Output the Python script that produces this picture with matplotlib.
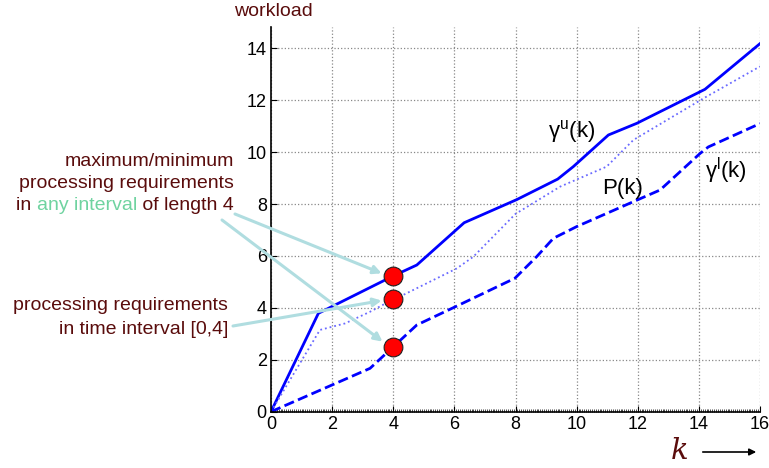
import numpy as np
import matplotlib
matplotlib.use("Agg")
import matplotlib.pyplot as plt
from matplotlib.ticker import MultipleLocator

plt.rcParams['font.family'] = ['Liberation Sans', 'DejaVu Sans']

# upper workload curve gamma^u(k)
k_upper = [0, 1.55, 4.0, 4.77, 6.32, 8.04, 9.38, 9.89, 11.04, 11.97, 14.2, 16.0]
w_upper = [0, 3.79, 5.23, 5.65, 7.28, 8.17, 8.96, 9.44, 10.66, 11.11, 12.42, 14.18]

# processing requirements P(k) of one trace
k_trace = [0, 1.6, 2.42, 3.24, 4.0, 4.33, 6.08, 6.62, 8.0, 9.46, 10.98, 11.86, 14.15, 16.0]
w_trace = [0, 3.15, 3.4, 3.85, 4.33, 4.5, 5.52, 5.97, 7.62, 8.67, 9.44, 10.47, 12.07, 13.3]

# lower workload curve gamma^l(k)
k_lower = [0, 3.24, 4.0, 4.77, 6.08, 7.98, 8.69, 9.24, 10.0, 11.97, 12.73, 14.04, 14.31, 16.0]
w_lower = [0, 1.67, 2.5, 3.34, 4.07, 5.14, 5.97, 6.68, 7.13, 8.15, 8.54, 9.95, 10.2, 11.1]

# highlighted values at k = 4
k_mark = [4, 4, 4]
w_mark = [5.23, 4.33, 2.5]

text_col = '#5a0c0c'
arrow_col = '#b0dde0'
fs = 14

fig = plt.figure(figsize=(7.69, 4.68), dpi=100)
ax = fig.add_axes([271 / 769, 1 - 411.7 / 468, 489 / 769, 384.7 / 468])

ax.plot(k_upper, w_upper, '-', color='#0000ff', lw=2)
ax.plot(k_trace, w_trace, ':', color='#6a6aff', lw=1.3)
ax.plot(k_lower, w_lower, '--', color='#0000ff', lw=2)

ax.set_xlim(0, 16)
ax.set_ylim(0, 14.82)
ax.set_xticks(range(0, 17, 2))
ax.set_yticks(range(0, 15, 2))
ax.xaxis.set_minor_locator(MultipleLocator(1 / 16))
ax.tick_params(which='minor', length=2, width=0.5, direction='in')
ax.tick_params(which='major', length=4, labelsize=13, direction='in', pad=3)
ax.grid(True, which='major', ls=':', color='#888888', lw=0.9)
ax.spines['top'].set_visible(False)
ax.spines['right'].set_visible(False)
ax.spines['left'].set_linewidth(1.2)
ax.spines['bottom'].set_linewidth(1.2)

ax.text(9.05, 10.55, r'$\mathregular{\gamma^u(k)}$', fontsize=16)
ax.text(10.85, 8.4, 'P(k)', fontsize=16)
ax.text(14.2, 9.0, r'$\mathregular{\gamma^l(k)}$', fontsize=16)


def px(x, y):
    # pixel position (from the top left) to figure fraction
    return (x / 769, 1 - y / 468)


arrow_kw = dict(arrowstyle='-|>', color=arrow_col, lw=2.2,
                mutation_scale=12, shrinkA=0, shrinkB=0)
ax.annotate('', xy=(k_mark[0] - 0.38, w_mark[0] + 0.1), xycoords='data',
            xytext=px(235, 214), textcoords='figure fraction', arrowprops=arrow_kw)
ax.annotate('', xy=(k_mark[2] - 0.35, w_mark[2] + 0.2), xycoords='data',
            xytext=px(222, 220), textcoords='figure fraction', arrowprops=arrow_kw)
ax.annotate('', xy=(k_mark[1] - 0.38, w_mark[1] - 0.05), xycoords='data',
            xytext=px(233, 326), textcoords='figure fraction', arrowprops=arrow_kw)

ax.plot(k_mark, w_mark, 'o', color='#ff0000', markeredgecolor='#202020',
        markeredgewidth=0.8, markersize=13.5, clip_on=False, zorder=5)

# explanatory text on the left
fig.text(234 / 769, 1 - 161 / 468, 'maximum/minimum', ha='right', va='center',
         fontsize=fs, color=text_col)
fig.text(234 / 769, 1 - 184 / 468, 'processing requirements', ha='right', va='center',
         fontsize=fs, color=text_col)
t1 = fig.text(234 / 769, 1 - 206 / 468, ' of length 4', ha='right', va='center',
              fontsize=fs, color=text_col)
fig.canvas.draw()
bb = t1.get_window_extent()
t2 = fig.text(bb.x0 / fig.bbox.width, 1 - 206 / 468, 'any interval', ha='right',
              va='center', fontsize=fs, color='#6fd3a0')
fig.canvas.draw()
bb2 = t2.get_window_extent()
fig.text(bb2.x0 / fig.bbox.width, 1 - 206 / 468, 'in ', ha='right', va='center',
         fontsize=fs, color=text_col)

fig.text(228 / 769, 1 - 306 / 468, 'processing requirements', ha='right', va='center',
         fontsize=fs, color=text_col)
fig.text(228 / 769, 1 - 330 / 468, 'in time interval [0,4]', ha='right', va='center',
         fontsize=fs, color=text_col)

fig.text(234 / 769, 1 - 11 / 468, 'workload', ha='left', va='center',
         fontsize=fs, color=text_col)
fig.text(680 / 769, 1 - 451 / 468, 'k', ha='center', va='center', fontsize=21,
         family='DejaVu Serif', style='italic', color=text_col)
fig.add_artist(matplotlib.patches.FancyArrowPatch(
    px(700, 452), px(759, 452), transform=fig.transFigure, arrowstyle='-|>',
    mutation_scale=10, color='black', lw=1.2))

fig.savefig('out.png', dpi=100)
